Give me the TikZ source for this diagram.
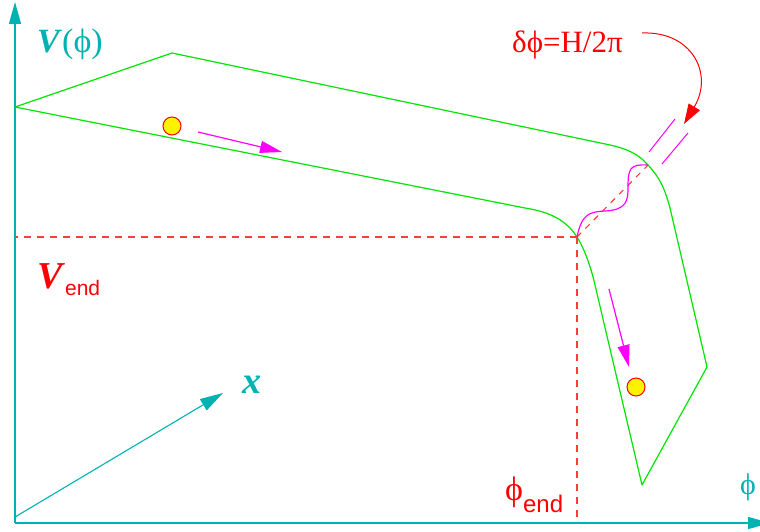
\documentclass[tikz,border=0pt]{standalone}
\usepackage{fontspec}
\setmainfont{Liberation Serif}
\newfontfamily\sansf{Liberation Sans}
\usetikzlibrary{arrows.meta}
\definecolor{axcol}{RGB}{0,178,178}
\definecolor{grn}{RGB}{0,228,0}
\definecolor{dred}{RGB}{255,60,60}
\definecolor{mag}{RGB}{255,0,255}
\begin{document}
\begin{tikzpicture}[x=1pt,y=-1pt,
 axis/.style={axcol, line width=1.4pt, -{Triangle[length=22pt,width=12pt]}},
 pot/.style={grn, line width=1.2pt, line join=round},
 guide/.style={dred, line width=1.2pt, dash pattern=on 7pt off 6pt},
 motion/.style={mag, line width=1.2pt, -{Triangle[length=22pt,width=12pt]}},
 ball/.style={circle, draw=red, fill=yellow, line width=1pt, minimum size=18pt, inner sep=0pt},
 lbl/.style={inner sep=0pt, anchor=base west}]
\useasboundingbox (0,0) rectangle (760,532);
% axes
\coordinate (O) at (15,523);
\coordinate (Ytop) at (15,2);
\coordinate (Xend) at (770,523);
\coordinate (xs) at (15,517);
\coordinate (xe) at (223,393);
\draw[axis] (O) -- (Ytop);
\draw[axis] (O) -- (Xend);
\draw[axis, line width=1.1pt, -{Triangle[length=23pt,width=13pt]}] (xs) -- (xe);
% potential surface
\coordinate (A) at (15,107);
\coordinate (B) at (172,53);
\coordinate (C) at (577,237);
\coordinate (D) at (648,165);
\draw[pot] (A) -- (B) -- (610,145)
  .. controls (639.9,151.3) and (646,164) .. (D)
  .. controls (659,177) and (664,186) .. (670,208)
  -- (707,367) -- (642,485) -- (595,285)
  .. controls (591,267) and (584,248) .. (C)
  .. controls (566,220) and (550,212) .. (525,208) -- cycle;
% guides
\draw[guide] (C) -- (C -| O);
\draw[guide] (C) -- (C |- O);
\draw[dred, line width=1.1pt, dash pattern=on 6pt off 6pt] (C) -- (D);
% quantum jump
\draw[mag, line width=1.2pt] (C) .. controls (582,213) and (590,212) .. (605,211)
  .. controls (627,210) and (628,200) .. (628,188)
  .. controls (628,168) and (630,164) .. (D);
\coordinate (p1) at (649,152);
\coordinate (p2) at (675,119);
\coordinate (q1) at (662,164);
\coordinate (q2) at (688,133);
\draw[mag, line width=1pt] (p1) -- (p2);
\draw[mag, line width=1pt] (q1) -- (q2);
% label and arrow
\node[lbl, red] (dphi) at (512,53) {\fontsize{31}{31}\selectfont δϕ=H/2π};
\coordinate (r1) at (642,33);
\coordinate (r2) at (684,124);
\draw[red, line width=1pt, -{Triangle[length=20pt,width=13pt]}] (r1) .. controls (692,31) and (714,74) .. (r2);
% balls and motion arrows
\node[ball] (b1) at (172,126) {};
\node[ball] (b2) at (636,387) {};
\coordinate (m1s) at (198,132);
\coordinate (m1e) at (282,152);
\coordinate (m2s) at (609,289);
\coordinate (m2e) at (629,367);
\draw[motion] (m1s) -- (m1e);
\draw[motion] (m2s) -- (m2e);
% labels
\node[lbl, axcol] (Vphi) at (37,53) {\fontsize{34}{34}\selectfont\textbf{\textit{V}}(ϕ)};
\node[lbl, red] (Vend) at (37,288) {\fontsize{38}{38}\selectfont\textbf{\textit{V}}\raisebox{-7pt}{\sansf\fontsize{21}{21}\selectfont end}};
\node[lbl, red] (phiend) at (505,500) {\fontsize{34}{34}\selectfont ϕ\raisebox{-12pt}{\sansf\fontsize{24}{24}\selectfont end}};
\node[lbl, axcol] (phiax) at (740,494) {\fontsize{30}{30}\selectfont ϕ};
\node[lbl, axcol] (xlab) at (242,393) {\fontsize{38}{38}\selectfont\textbf{\textit{x}}};
\end{tikzpicture}
\end{document}
